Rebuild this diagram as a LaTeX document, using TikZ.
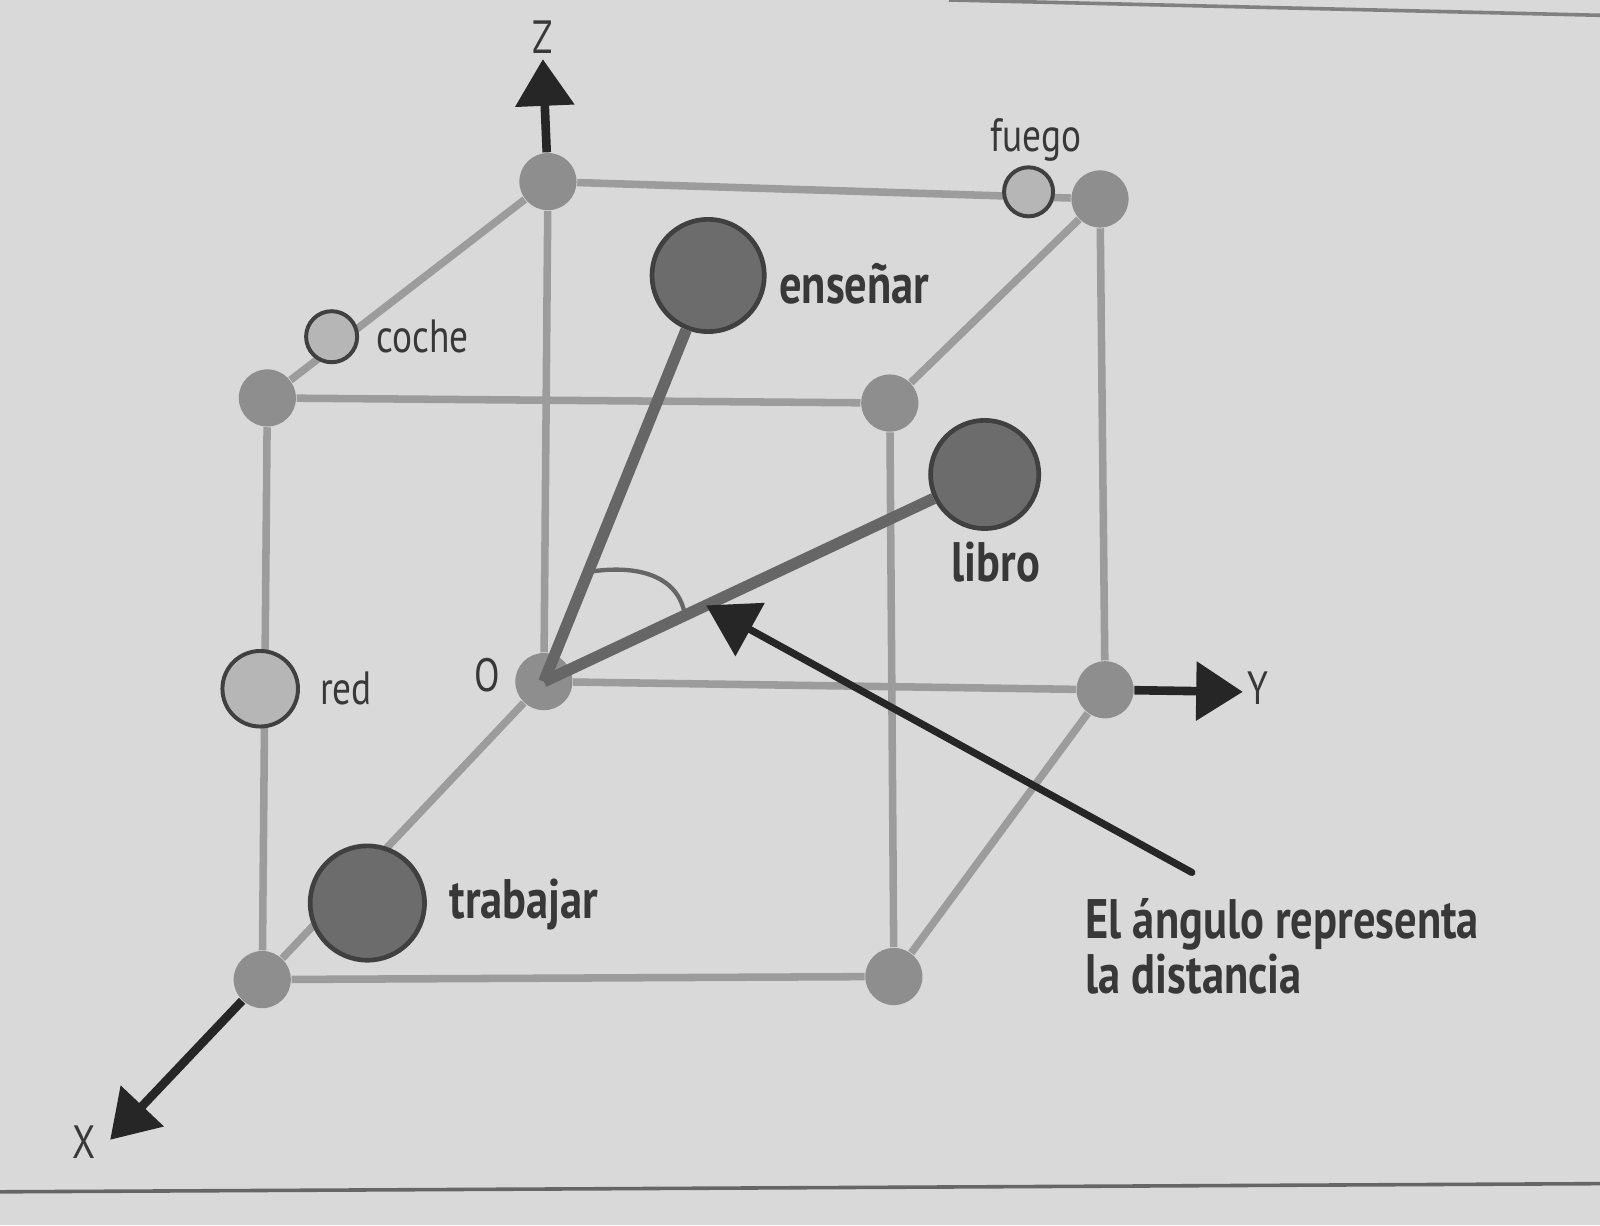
\documentclass[tikz,border=0pt]{standalone}
\usepackage[usenames,dvipsnames]{xcolor}
\usepackage{fontspec}
\setmainfont{PT Sans}[FakeStretch=0.8]
\usepackage{tikz}
\usetikzlibrary{arrows.meta,calc,backgrounds}

\definecolor{paper}{HTML}{D9D9D9}
\definecolor{cubegray}{HTML}{9C9C9C}
\definecolor{dotgray}{HTML}{8E8E8E}
\definecolor{vecgray}{HTML}{666666}
\definecolor{bigfill}{HTML}{6C6C6C}
\definecolor{rimgray}{HTML}{404040}
\definecolor{smallfill}{HTML}{B6B6B6}
\definecolor{inkgray}{HTML}{262626}
\definecolor{labgray}{HTML}{383838}

\tikzset{
  vertex/.style={circle,fill=dotgray,minimum size=0.56cm,inner sep=0},
  cubeline/.style={line width=2.1pt,color=cubegray},
  bigword/.style={circle,draw=rimgray,line width=1.3pt,fill=bigfill,inner sep=0},
  smallword/.style={circle,draw=rimgray,line width=1.1pt,fill=smallfill,inner sep=0},
  axis/.style={line width=2.4pt,color=inkgray,-{Triangle[length=13pt,width=16pt]}},
  vec/.style={line width=3.2pt,color=vecgray},
  pointer/.style={line width=2pt,color=inkgray,line cap=round,-{Triangle[length=14pt,width=16.5pt]}},
  lab/.style={font=\fontsize{13}{15}\selectfont,text=labgray,inner sep=0},
  blab/.style={font=\fontsize{15.5}{14.3}\selectfont\bfseries,text=labgray,inner sep=0},
}

\begin{document}
\begin{tikzpicture}[x=0.01cm,y=-0.01cm]
 \useasboundingbox (0,0) rectangle (1568,1201);

  \draw (537,178) node[vertex] (A) {};
  \draw (1078,195) node[vertex] (B) {};
  \draw (262,390) node[vertex] (C) {};
  \draw (872,395) node[vertex] (D) {};
   \draw (533,668) node[vertex] (O) {};
   \draw (1083,676) node[vertex] (E) {};
     \draw (257,960) node[vertex] (F) {};
     \draw (876,957) node[vertex] (G) {};

  \draw (1008,188) node[smallword,minimum size=0.48cm] (fuego) {};
  \draw (325,330) node[smallword,minimum size=0.5cm] (coche) {};
  \draw (255,675) node[smallword,minimum size=0.74cm] (red) {};

  \draw (694,270) node[bigword,minimum size=1.1cm] (ens) {};
  \draw (965,465) node[bigword,minimum size=1.06cm] (libro) {};
  \draw (360,885) node[bigword,minimum size=1.12cm] (trab) {};

 \begin{scope}[on background layer]
  \fill[paper] (0,0) rectangle (1568,1201);
  \draw[line width=1pt,color=gray] (930,0) -- (1568,15);
  \draw[line width=1pt,color=gray!80!black] (0,1168) -- (1568,1160);
     \path[cubeline] (A) edge (B) (A) edge (C) (A) edge (O);
     \path[cubeline] (B) edge (D) (B) edge (E) (C) edge (D);
     \path[cubeline] (C) edge (F) (D) edge (G) (O) edge (E);
     \path[cubeline] (O) edge (F) (E) edge (G) (F) edge (G);
 \end{scope}

     \path[vec] (O.center) edge (ens) (O.center) edge (libro);

  \coordinate (ztip) at (532,58);
  \coordinate (ytip) at (1218,678);
  \coordinate (xtip) at (108,1117);
     \draw[axis] (A) -- (ztip);
     \draw[axis] (E) -- (ytip);
     \draw[axis] (F) -- (xtip);

  \coordinate (a1) at ($(O)!0.27!(ens)$);
  \coordinate (a2) at ($(O)!0.32!(libro)$);
     \draw[line width=1.2pt,color=vecgray] (a1) .. controls +(50,-8) and +(-6,-38) .. (a2);

  \coordinate (ptail) at (1168,855);
  \coordinate (ptip) at ($(O)!0.368!(libro)$);
     \draw[pointer] (ptail) -- (ptip);

  \draw (532,52) node[lab,anchor=base] (zlab) {Z};
  \draw (1222,690) node[lab,anchor=base west] (ylab) {Y};
  \draw (82,1135) node[lab,anchor=base] (xlab) {X};
  \draw (478,678) node[lab,anchor=base] (olab) {O};
  \draw (970,148) node[lab,anchor=base west] (fuegolab) {fuego};
  \draw (368,345) node[lab,anchor=base west] (cochelab) {coche};
  \draw (313,690) node[lab,anchor=base west] (redlab) {red};
  \draw (763,297) node[blab,anchor=base west] (enslab) {enseñar};
  \draw (932,570) node[blab,anchor=base west] (librolab) {libro};
  \draw (440,900) node[blab,anchor=base west] (trablab) {trabajar};
  \draw (1063,880) node[blab,anchor=north west,align=left] (caption) {El ángulo representa\\la distancia};
\end{tikzpicture}
\end{document}
